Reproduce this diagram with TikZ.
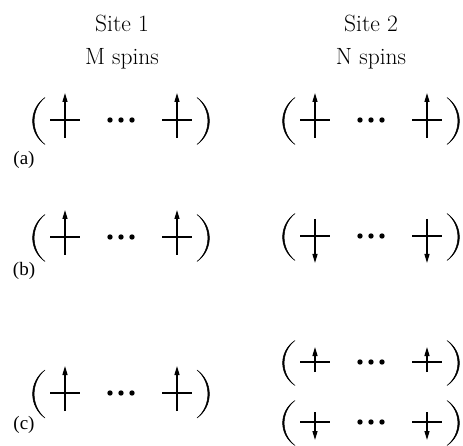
\documentclass[tikz,border=0pt]{standalone}
\usepackage{fontspec}
\newfontfamily\tagfont{Liberation Serif}
\usetikzlibrary{arrows.meta}

\begin{document}
\begin{tikzpicture}[x=1pt, y=-1pt, >={Triangle[length=9pt,width=5pt]},
  bar/.style={line width=2.3pt},
  stem/.style={line width=1.3pt},
  paren/.style={fill, line width=0.5pt, line join=round},
  head/.style={font=\fontsize{23.5}{26}\selectfont, anchor=base},
  tag/.style={font=\tagfont\fontsize{19}{21}\selectfont},
  pics/spin/.style 2 args={code={
    \draw[bar] (-15,0) -- (15,0);
    \draw[stem,->] (0,#1) -- (0,#2);}},
  pics/state/.style n args={3}{code={
    \filldraw[paren] (-76,1-#1) .. controls (-92.5,1-#1/2) and (-92.5,1+#1/2) .. (-76,1+#1)
      .. controls (-90.5,1+#1/2) and (-90.5,1-#1/2) .. cycle;
    \filldraw[paren] (76,1-#1) .. controls (92.5,1-#1/2) and (92.5,1+#1/2) .. (76,1+#1)
      .. controls (90.5,1+#1/2) and (90.5,1-#1/2) .. cycle;
    \pic at (-56,0) {spin={#2}{#3}};
    \pic at (56,0) {spin={#2}{#3}};
    \foreach \dx in {-11,0,11}
      \fill (\dx,0) circle (2.7);}}]
  \useasboundingbox (0,0) rectangle (463,446);

  % column heads
  \node[head] (site1) at (122,32) {Site 1};
  \node[head] (mspins) at (122,65) {M spins};
  \node[head] (site2) at (371,32) {Site 2};
  \node[head] (nspins) at (371,65) {N spins};

  % (a) all up
  \pic (a1) at (121,120) {state={23.5}{18}{-27}};
  \pic (a2) at (371,120) {state={23.5}{18}{-27}};
  \node[tag] (laba) at (24,160) {(a)};

  % (b) up / down
  \pic (b1) at (121,237) {state={23.5}{18}{-27}};
  \pic (b2) at (371,236) {state={23.5}{-17}{27}};
  \node[tag] (labb) at (24,271) {(b)};

  % (c) up / both
  \pic (c1) at (121,393) {state={24}{18}{-27}};
  \pic (c2) at (371,362) {state={22.5}{10}{-15}};
  \pic (c3) at (371,422) {state={22.5}{-10}{18}};
  \node[tag] (labc) at (24,425) {(c)};
\end{tikzpicture}
\end{document}
